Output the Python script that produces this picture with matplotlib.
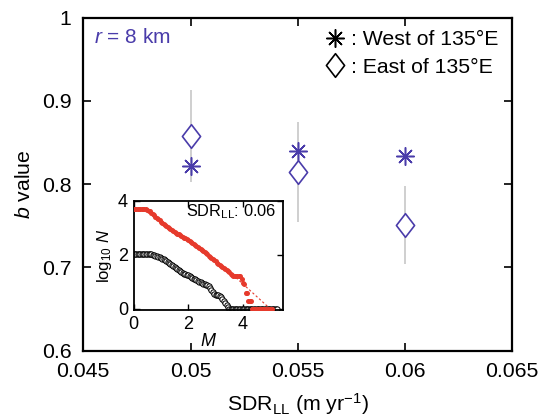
import matplotlib
matplotlib.use("Agg")
import matplotlib.pyplot as plt
from matplotlib.path import Path
import numpy as np

plt.rcParams['font.family'] = ['Liberation Sans', 'DejaVu Sans']
plt.rcParams['mathtext.fontset'] = 'custom'
plt.rcParams['mathtext.rm'] = 'Liberation Sans'
plt.rcParams['mathtext.it'] = 'Liberation Sans:italic'
plt.rcParams['mathtext.bf'] = 'Liberation Sans:bold'

# ---------------- main data ----------------
sdr = [0.05, 0.055, 0.06]
b_west = [0.822, 0.840, 0.834]
b_east = [0.858, 0.814, 0.751]
b_east_err = [0.055, 0.060, 0.047]

# ---------------- inset data (SDR_LL = 0.06) ----------------
red_M = [round(0.05 * i, 2) for i in range(102)]  # 0.00 .. 5.05
red_logN = [3.70, 3.70, 3.70, 3.70, 3.70, 3.70, 3.70, 3.69, 3.68, 3.67,
            3.65, 3.63, 3.60, 3.55, 3.50, 3.46, 3.41, 3.36, 3.31, 3.27,
            3.22, 3.18, 3.14, 3.10, 3.06, 3.02, 2.98, 2.94, 2.90, 2.87,
            2.84, 2.81, 2.78, 2.75, 2.72, 2.69, 2.66, 2.63, 2.60, 2.58,
            2.55, 2.51, 2.47, 2.43, 2.40, 2.37, 2.33, 2.29, 2.25, 2.21,
            2.17, 2.13, 2.09, 2.05, 2.01, 1.97, 1.93, 1.89, 1.85, 1.80,
            1.75, 1.71, 1.67, 1.63, 1.59, 1.55, 1.51, 1.47, 1.43, 1.39,
            1.35, 1.30, 1.25, 1.22, 1.21, 1.21, 1.22, 1.22, 1.20, 1.10,
            0.95, 0.90, 0.60, 0.60, 0.30, 0.30, 0.30, 0.00, 0.00, 0.00,
            0.00, 0.00, 0.00, 0.00, 0.00, 0.00, 0.00, 0.00, 0.00, 0.00,
            0.00, 0.00]
red_fit_M = [3.75, 5.0]
red_fit_logN = [1.15, 0.0]

black_M = [round(0.05 * i, 2) for i in range(106)]  # 0.00 .. 5.25
black_logN = [2.02, 2.02, 2.02, 2.02, 2.02, 2.02, 2.02, 2.02, 2.02, 2.02,
              2.02, 2.02, 2.01, 2.01, 2.00, 1.99, 1.97, 1.95, 1.93, 1.91,
              1.89, 1.86, 1.83, 1.80, 1.77, 1.73, 1.70, 1.66, 1.62, 1.58,
              1.54, 1.50, 1.46, 1.42, 1.40, 1.37, 1.33, 1.30, 1.28, 1.26,
              1.24, 1.21, 1.18, 1.15, 1.12, 1.09, 1.06, 1.03, 1.00, 0.98,
              0.95, 0.93, 0.90, 0.89, 0.88, 0.85, 0.78, 0.70, 0.62, 0.56,
              0.50, 0.50, 0.52, 0.48, 0.42, 0.36, 0.30, 0.22, 0.15, 0.08,
              0.00, 0.00, 0.00, 0.00, 0.00, 0.00, 0.00, 0.00, 0.00, 0.00,
              0.00, 0.00, 0.00, 0.00, 0.00, 0.00, 0.00, 0.00, 0.00, 0.00,
              0.00, 0.00, 0.00, 0.00, 0.00, 0.00, 0.00, 0.00, 0.00, 0.00,
              0.00, 0.00, 0.00, 0.00, 0.00, 0.00]

blue = '#4a3caa'
red = '#e63a2c'
asterisk = (8, 2, 0)
diamond = Path([(0, 1), (0.77, 0), (0, -1), (-0.77, 0), (0, 1)],
               [Path.MOVETO, Path.LINETO, Path.LINETO, Path.LINETO, Path.CLOSEPOLY])

FS = 15.3

fig = plt.figure(figsize=(5.43, 4.18), dpi=100)
ax = fig.add_axes([0.1534, 0.161, 0.790, 0.797])

ax.errorbar(sdr, b_east, yerr=b_east_err, fmt='none', ecolor='#cccccc',
            elinewidth=1.3, capsize=0, zorder=1)
ax.plot(sdr, b_west, linestyle='none', marker=asterisk, markersize=13,
        markeredgewidth=1.1, color=blue, zorder=3)
ax.plot(sdr, b_east, linestyle='none', marker=diamond, markersize=17,
        markeredgewidth=1.2, markerfacecolor='white', markeredgecolor=blue, zorder=3)

ax.set_xlim(0.045, 0.065)
ax.set_ylim(0.6, 1.0)
ax.set_xticks([0.045, 0.05, 0.055, 0.06, 0.065])
ax.set_xticklabels(['0.045', '0.05', '0.055', '0.06', '0.065'])
ax.set_yticks([0.6, 0.7, 0.8, 0.9, 1.0])
ax.set_yticklabels(['0.6', '0.7', '0.8', '0.9', '1'])
ax.tick_params(direction='in', length=6, width=1.2, top=True, right=True,
               labelsize=FS, colors='black')
ax.tick_params(axis='x', pad=8)
ax.tick_params(axis='y', pad=8.5)
for s in ax.spines.values():
    s.set_linewidth(1.6)

ax.set_xlabel(r'SDR$_{\mathrm{LL}}$ (m yr$^{-1}$)', fontsize=FS, labelpad=7.5)
ax.set_ylabel(r'$b$ value', fontsize=FS, labelpad=6)

ax.text(0.026, 0.94, r'$r$ = 8 km', transform=ax.transAxes, color=blue,
        fontsize=15, va='center', ha='left')

hw, = ax.plot([], [], linestyle='none', marker=asterisk, markersize=13,
              markeredgewidth=1.1, color='black')
he, = ax.plot([], [], linestyle='none', marker=diamond, markersize=17,
              markeredgewidth=1.2, markerfacecolor='white', markeredgecolor='black')
ax.legend([hw, he], [': West of 135°E', ': East of 135°E'], loc='upper right',
          bbox_to_anchor=(1.003, 1.006), frameon=False, fontsize=FS,
          handlelength=0.9, handletextpad=0.3, labelspacing=0.4,
          borderaxespad=0.3)

# ---------------- inset ----------------
ins = fig.add_axes([0.2459, 0.2572, 0.276, 0.263])
ins.plot(black_M, black_logN, color='black', linewidth=0.8, marker='o',
         markersize=3.8, markerfacecolor='white', markeredgecolor='black',
         markeredgewidth=0.7, zorder=2)
ins.plot(red_fit_M, red_fit_logN, color=red, linestyle=(0, (2, 2)),
         linewidth=0.8, zorder=2)
ins.plot(red_M, red_logN, linestyle='none', marker='o', markersize=3.6,
         color=red, markeredgewidth=0, zorder=3)
ins.set_xlim(0, 5.48)
ins.set_ylim(-0.06, 4.0)
ins.set_xticks([0, 2, 4])
ins.set_yticks([0, 2, 4])
ins.tick_params(direction='in', length=4, width=1.0, top=True, right=True,
                labelsize=13, pad=4)
for s in ins.spines.values():
    s.set_linewidth(1.3)
ins.set_xlabel(r'$M$', fontsize=13, labelpad=0)
ins.set_ylabel(r'log$_{10}$ $N$', fontsize=12, labelpad=3)
ins.text(0.953, 0.895, r'SDR$_{\mathrm{LL}}$: 0.06', transform=ins.transAxes,
         fontsize=11.8, ha='right', va='center')

fig.savefig('out.png', dpi=100)
